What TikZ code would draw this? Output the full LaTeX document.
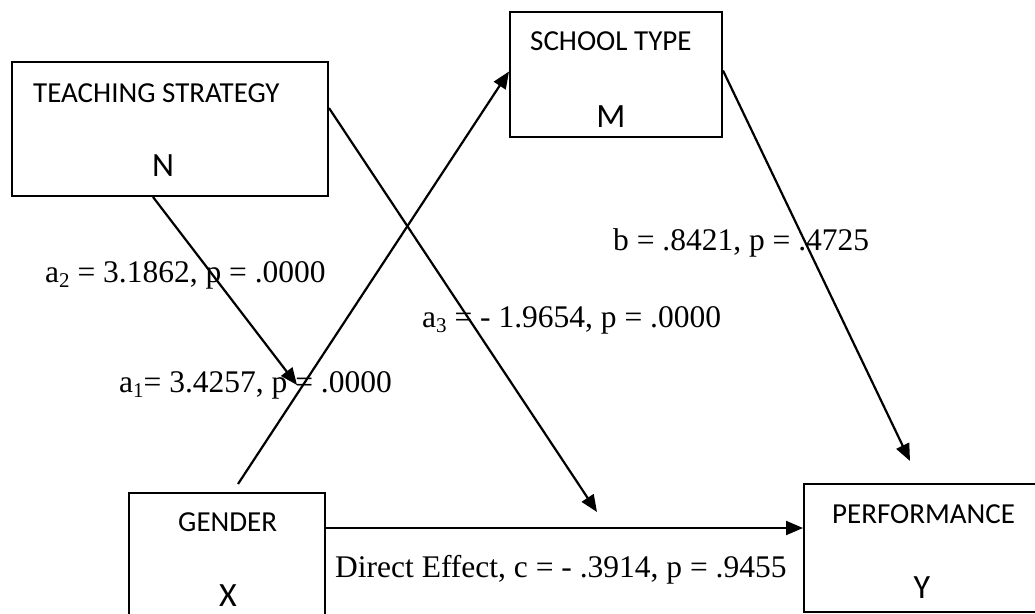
\documentclass[tikz,border=0pt]{standalone}
\usepackage{fontspec}
\setmainfont{Liberation Serif}
\newfontfamily\boxfont{Carlito}
\usetikzlibrary{arrows.meta,calc}

% lowered small digit used for the path subscripts
\newcommand\pathsub[1]{\raisebox{-5pt}{\fontsize{21}{21}\selectfont #1}}

\begin{document}
\begin{tikzpicture}[x=1pt,y=-1pt,
  varbox/.style={draw,line width=2pt,inner sep=0pt,minimum width=#1},
  boxtitle/.style={anchor=base west,inner sep=0pt,font=\boxfont\fontsize{29}{29}\selectfont},
  boxletter/.style={anchor=base,inner sep=0pt,font=\boxfont\fontsize{34}{34}\selectfont},
  coef/.style={anchor=base west,inner sep=0pt,font=\fontsize{31.5}{31.5}\selectfont},
  arr/.style={line width=2.2pt,-{Triangle[length=17pt,width=14pt]}}]
\useasboundingbox (0,0) rectangle (1035,613);

% variable boxes
\node[varbox=316pt,minimum height=134pt] (ts) at (170,129) {};
\node[varbox=212pt,minimum height=125pt] (st) at (616,74.5) {};
\node[varbox=196pt,minimum height=134pt] (gd) at (227,560) {};
\node[varbox=238pt,minimum height=128pt] (pf) at (923,548) {};

% box texts
\node[boxtitle] (tsT) at (33,102) {TEACHING STRATEGY};
\node[boxletter] (tsL) at (163,176) {N};
\node[boxtitle] (stT) at (530,50) {SCHOOL TYPE};
\node[boxletter] (stL) at (611,127) {M};
\node[boxtitle] (gdT) at (178,531) {GENDER};
\node[boxletter] (gdL) at (228,606) {X};
\node[boxtitle] (pfT) at (832,523) {PERFORMANCE};
\node[boxletter] (pfL) at (922,598) {Y};

% ends of the moderation arrows
\coordinate (modA) at (297,385);
\coordinate (modB) at (597,512);

% paths
\draw[arr] ([xshift=11pt,yshift=8pt]gd.north) -- ([yshift=3pt]st.west);
\draw[arr] ([xshift=-17pt]ts.south) -- (modA);
\draw[arr] ([yshift=21pt]ts.east) -- (modB);
\draw[arr] ([yshift=4pt]st.east) -- ([xshift=-13pt,yshift=22pt]pf.north);
\draw[arr] ([yshift=32pt]gd.east) -- ([yshift=32pt]gd.east -| pf.west);

% coefficients
\node[coef] (la2) at (45,282) {a\pathsub{2} = 3.1862, p = .0000};
\node[coef] (la3) at (422,327) {a\pathsub{3} = - 1.9654, p = .0000};
\node[coef] (la1) at (119,392) {a\pathsub{1}= 3.4257, p = .0000};
\node[coef] (lb) at (613,250) {b = .8421, p = .4725};
\node[coef] (lc) at (335,577) {Direct Effect, c = - .3914, p = .9455};
\end{tikzpicture}
\end{document}
